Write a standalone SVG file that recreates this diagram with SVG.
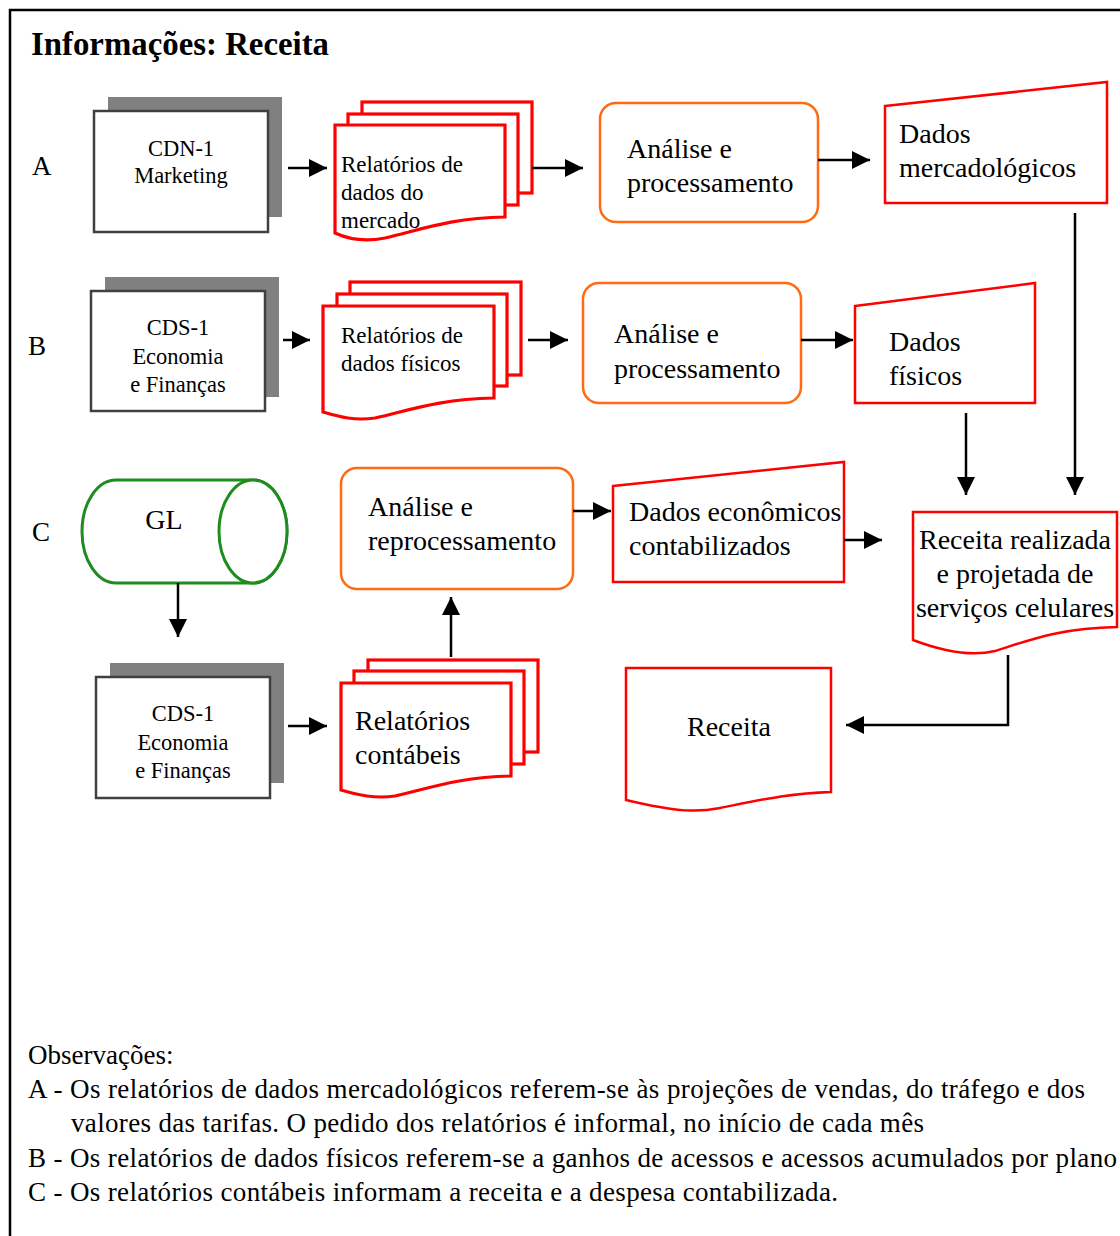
<svg xmlns="http://www.w3.org/2000/svg" width="1120" height="1236" viewBox="0 0 1120 1236" font-family="'Liberation Serif', 'Times New Roman', serif">
<defs>
<style>
text{font-family:"Liberation Serif","Times New Roman",serif;fill:#000}
.t22{font-size:22.5px}
.t23{font-size:23px}
.t28{font-size:28px}
.t26{font-size:27px}
.mid{text-anchor:middle}
.box{fill:#fff;stroke:#404040;stroke-width:2.5}
.shadow{fill:#808080}
.doc{fill:#fff;stroke:#ff0000;stroke-width:3.2}
.data{fill:#fff;stroke:#ff0000;stroke-width:2.5}
.proc{fill:#fff;stroke:#ff6a13;stroke-width:2.5}
.db{fill:#fff;stroke:#1e8c1e;stroke-width:3}
.conn{fill:none;stroke:#000;stroke-width:2.5}
</style>
<marker id="ah" markerUnits="userSpaceOnUse" markerWidth="18" markerHeight="18" refX="18" refY="9" orient="auto">
<path d="M0,0 L18,9 L0,18 Z" fill="#000"/>
</marker>
</defs>
<rect x="0" y="0" width="1120" height="1236" fill="#fff"/>
<path d="M10,1236 V10 H1120" fill="none" stroke="#000" stroke-width="2.5"/>
<text x="31" y="55" font-weight="bold" font-size="33" textLength="298" lengthAdjust="spacingAndGlyphs">Informações: Receita</text>

<text class="t26" x="32" y="175">A</text>
<text class="t26" x="28" y="355">B</text>
<text class="t26" x="32" y="541">C</text>

<g id="cdn1">
<rect class="shadow" x="108" y="97" width="174" height="120"/>
<rect class="box" x="94" y="111" width="174" height="121"/>
<text class="t22 mid" x="181" y="156">CDN-1</text>
<text class="t22 mid" x="181" y="183">Marketing</text>
</g>
<g id="relA">
<rect class="doc" x="362" y="102" width="170" height="91"/>
<rect class="doc" x="348" y="114" width="170" height="91"/>
<path class="doc" d="M335,125 H505 V217 C450,218 420,230 385,238 C365,242 350,240 335,233 Z"/>
<text class="t23" x="341" y="172">Relatórios de</text>
<text class="t23" x="341" y="200">dados do</text>
<text class="t23" x="341" y="228">mercado</text>
</g>
<g id="procA">
<rect class="proc" x="600" y="103" width="218" height="119" rx="16"/>
<text class="t28" x="627" y="158">Análise e</text>
<text class="t28" x="627" y="192">processamento</text>
</g>
<g id="dadosMerc">
<path class="data" d="M885,106 L1107,82 V203 H885 Z"/>
<text class="t28" x="899" y="143">Dados</text>
<text class="t28" x="899" y="177">mercadológicos</text>
</g>

<g id="cds1b">
<rect class="shadow" x="105" y="277" width="174" height="120"/>
<rect class="box" x="91" y="291" width="174" height="120"/>
<text class="t22 mid" x="178" y="335">CDS-1</text>
<text class="t22 mid" x="178" y="364">Economia</text>
<text class="t22 mid" x="178" y="392">e Finanças</text>
</g>
<g id="relB">
<rect class="doc" x="350" y="282" width="171" height="93"/>
<rect class="doc" x="337" y="294" width="170" height="92"/>
<path class="doc" d="M323,306 H494 V398 C440,399 410,410 375,418 C355,421 340,417 323,412 Z"/>
<text class="t23" x="341" y="343">Relatórios de</text>
<text class="t23" x="341" y="371">dados físicos</text>
</g>
<g id="procB">
<rect class="proc" x="583" y="283" width="218" height="120" rx="16"/>
<text class="t28" x="614" y="343">Análise e</text>
<text class="t28" x="614" y="378">processamento</text>
</g>
<g id="dadosFis">
<path class="data" d="M855,306 L1035,283 V403 H855 Z"/>
<text class="t28" x="889" y="351">Dados</text>
<text class="t28" x="889" y="385">físicos</text>
</g>

<g id="gl">
<path class="db" d="M116,480 H253 A34,51.5 0 0 1 253,583 H116 A34,51.5 0 0 1 116,480 Z"/>
<ellipse class="db" cx="253" cy="531.5" rx="34" ry="51.5"/>
<text class="t28 mid" x="164" y="529">GL</text>
</g>
<g id="procC">
<rect class="proc" x="341" y="468" width="232" height="121" rx="16"/>
<text class="t28" x="368" y="516">Análise e</text>
<text class="t28" x="368" y="550">reprocessamento</text>
</g>
<g id="dadosEcon">
<path class="data" d="M613,486 L844,462 V582 H613 Z"/>
<text class="t28" x="629" y="521">Dados econômicos</text>
<text class="t28" x="629" y="555">contabilizados</text>
</g>
<g id="receitaReal">
<path class="data" d="M913,512 H1117 V627 C1060,628 1030,640 995,651 C975,656 950,654 913,640 Z"/>
<text class="t28 mid" x="1015" y="549">Receita realizada</text>
<text class="t28 mid" x="1015" y="583">e projetada de</text>
<text class="t28 mid" x="1015" y="617">serviços celulares</text>
</g>
<g id="cds1c">
<rect class="shadow" x="110" y="663" width="174" height="120"/>
<rect class="box" x="96" y="677" width="174" height="121"/>
<text class="t22 mid" x="183" y="721">CDS-1</text>
<text class="t22 mid" x="183" y="750">Economia</text>
<text class="t22 mid" x="183" y="778">e Finanças</text>
</g>
<g id="relC">
<rect class="doc" x="368" y="660" width="170" height="92"/>
<rect class="doc" x="354" y="671" width="170" height="93"/>
<path class="doc" d="M341,683 H511 V776 C460,777 430,788 395,796 C375,799 358,795 341,790 Z"/>
<text class="t28" x="355" y="730">Relatórios</text>
<text class="t28" x="355" y="764">contábeis</text>
</g>
<g id="receita">
<path class="data" d="M626,668 H831 V792 C790,793 760,800 720,808 C700,812 680,813 626,800 Z"/>
<text class="t28 mid" x="729" y="736">Receita</text>
</g>

<g id="connectors">
<line class="conn" x1="288" y1="168" x2="327" y2="168" marker-end="url(#ah)"/>
<line class="conn" x1="532" y1="168" x2="583" y2="168" marker-end="url(#ah)"/>
<line class="conn" x1="818" y1="160" x2="870" y2="160" marker-end="url(#ah)"/>
<line class="conn" x1="1075" y1="213" x2="1075" y2="495" marker-end="url(#ah)"/>
<line class="conn" x1="283" y1="340" x2="310" y2="340" marker-end="url(#ah)"/>
<line class="conn" x1="528" y1="340" x2="568" y2="340" marker-end="url(#ah)"/>
<line class="conn" x1="801" y1="340" x2="853" y2="340" marker-end="url(#ah)"/>
<line class="conn" x1="966" y1="413" x2="966" y2="495" marker-end="url(#ah)"/>
<line class="conn" x1="573" y1="511" x2="611" y2="511" marker-end="url(#ah)"/>
<line class="conn" x1="844" y1="540" x2="882" y2="540" marker-end="url(#ah)"/>
<line class="conn" x1="178" y1="583" x2="178" y2="637" marker-end="url(#ah)"/>
<line class="conn" x1="288" y1="726" x2="327" y2="726" marker-end="url(#ah)"/>
<line class="conn" x1="451" y1="657" x2="451" y2="597" marker-end="url(#ah)"/>
<path class="conn" d="M1008,655 V725 H846" marker-end="url(#ah)"/>
</g>

<g id="notes">
<text class="t26" x="28" y="1064">Observações:</text>
<text class="t26" x="28" y="1098" textLength="1057">A - Os relatórios de dados mercadológicos referem-se às projeções de vendas, do tráfego e dos</text>
<text class="t26" x="71" y="1132" textLength="853">valores das tarifas. O pedido dos relatórios é informal, no início de cada mês</text>
<text class="t26" x="28" y="1167" textLength="1089">B - Os relatórios de dados físicos referem-se a ganhos de acessos e acessos acumulados por plano</text>
<text class="t26" x="28" y="1201" textLength="810">C - Os relatórios contábeis informam a receita e a despesa contabilizada.</text>
</g>
</svg>
